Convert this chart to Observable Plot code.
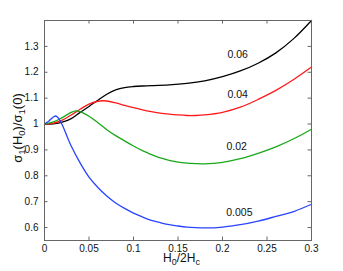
<!DOCTYPE html>
<html>
<head>
<meta charset="utf-8">
<script src="https://cdn.jsdelivr.net/npm/d3@7"></script>
<script src="https://cdn.jsdelivr.net/npm/@observablehq/plot@0.6"></script>
<style>
  html, body { margin: 0; padding: 0; background: #fff; }
  #chart svg { display: block; font-family: "Liberation Sans", Arial, sans-serif; }
</style>
</head>
<body>
<div id="chart"></div>
<script>
// ---- data ----
const xBlack = [0, 0.01, 0.02, 0.03, 0.04, 0.05, 0.06, 0.07, 0.08, 0.09, 0.10, 0.11, 0.12, 0.14, 0.16, 0.18, 0.20, 0.22, 0.24, 0.26, 0.28, 0.30];
const yBlack = [1.0, 1.001, 1.007, 1.021, 1.045, 1.068, 1.092, 1.115, 1.132, 1.141, 1.145, 1.147, 1.148, 1.151, 1.157, 1.167, 1.183, 1.205, 1.235, 1.275, 1.33, 1.40];

const xRed = [0, 0.01, 0.02, 0.03, 0.04, 0.05, 0.06, 0.065, 0.07, 0.08, 0.09, 0.10, 0.11, 0.12, 0.13, 0.14, 0.15, 0.16, 0.17, 0.18, 0.20, 0.22, 0.24, 0.26, 0.28, 0.30];
const yRed = [1.0, 1.003, 1.015, 1.035, 1.057, 1.077, 1.088, 1.09, 1.089, 1.082, 1.072, 1.063, 1.055, 1.048, 1.042, 1.038, 1.035, 1.033, 1.033, 1.035, 1.045, 1.065, 1.095, 1.13, 1.172, 1.22];

const xGreen = [0, 0.01, 0.02, 0.03, 0.035, 0.04, 0.05, 0.06, 0.07, 0.08, 0.09, 0.10, 0.11, 0.12, 0.13, 0.14, 0.15, 0.16, 0.17, 0.18, 0.19, 0.20, 0.22, 0.24, 0.26, 0.28, 0.30];
const yGreen = [1.0, 1.008, 1.025, 1.045, 1.051, 1.048, 1.03, 1.005, 0.978, 0.955, 0.935, 0.915, 0.897, 0.882, 0.869, 0.86, 0.853, 0.849, 0.847, 0.846, 0.848, 0.852, 0.866, 0.887, 0.912, 0.943, 0.98];

const xBlue = [0, 0.005, 0.01, 0.0125, 0.015, 0.02, 0.025, 0.03, 0.04, 0.05, 0.06, 0.07, 0.08, 0.09, 0.10, 0.11, 0.12, 0.13, 0.14, 0.15, 0.16, 0.17, 0.18, 0.19, 0.20, 0.22, 0.24, 0.26, 0.28, 0.30];
const yBlue = [1.0, 1.012, 1.027, 1.031, 1.025, 0.996, 0.955, 0.915, 0.85, 0.795, 0.755, 0.722, 0.695, 0.674, 0.656, 0.641, 0.628, 0.619, 0.611, 0.606, 0.602, 0.6, 0.599, 0.599, 0.602, 0.611, 0.625, 0.643, 0.662, 0.69];

const seriesNames = ["0.06", "0.04", "0.02", "0.005"];
const seriesColors = ["#000000", "#ff1a1a", "#1aa81a", "#2a44ff"];
const labelX = [0.217, 0.217, 0.216, 0.219];
const labelY = [1.27, 1.113, 0.914, 0.659];

const xTicks = [0, 0.05, 0.1, 0.15, 0.2, 0.25, 0.3];
const yTicks = [0.6, 0.7, 0.8, 0.9, 1, 1.1, 1.2, 1.3];

// ---- build tables ----
const xs = [xBlack, xRed, xGreen, xBlue];
const ys = [yBlack, yRed, yGreen, yBlue];
const rows = [];
seriesNames.forEach((name, i) => xs[i].forEach((x, j) => rows.push({series: name, x, y: ys[i][j]})));
const labels = seriesNames.map((name, i) => ({series: name, x: labelX[i], y: labelY[i]}));

const W = 343, H = 271;
const mL = 44, mR = 32, mT = 20, mB = 31;
const pw = W - mL - mR, ph = H - mT - mB;
const tick = 3.5;
const boxColor = "#666";
const fmt = d => String(+d.toFixed(3));

const chart = Plot.plot({
  width: W, height: H,
  marginLeft: mL, marginRight: mR, marginTop: mT, marginBottom: mB,
  style: {fontFamily: "Liberation Sans, Arial, sans-serif", fontSize: "10px", color: "#111", background: "#fff"},
  x: {domain: [0, 0.3], ticks: xTicks, tickFormat: fmt, label: null},
  y: {domain: [0.55, 1.4], ticks: yTicks, tickFormat: fmt, label: null},
  color: {domain: seriesNames, range: seriesColors},
  marks: [
    Plot.axisX(xTicks, {tickSize: 0, tickPadding: 4, tickFormat: fmt, fontSize: 10, fill: "#111"}),
    Plot.axisY(yTicks, {tickSize: 0, tickPadding: 6, tickFormat: fmt, fontSize: 10, fill: "#111"}),
    // inward ticks on all four sides
    Plot.tickX(xTicks, {x: d => d, insetTop: ph - tick, stroke: boxColor, strokeWidth: 1}),
    Plot.tickX(xTicks, {x: d => d, insetBottom: ph - tick, stroke: boxColor, strokeWidth: 1}),
    Plot.tickY(yTicks, {y: d => d, insetRight: pw - tick, stroke: boxColor, strokeWidth: 1}),
    Plot.tickY(yTicks, {y: d => d, insetLeft: pw - tick, stroke: boxColor, strokeWidth: 1}),
    Plot.line(rows, {x: "x", y: "y", z: "series", stroke: "series", strokeWidth: 1.3, curve: "catmull-rom"}),
    Plot.text(labels, {x: "x", y: "y", text: "series", fontSize: 10.5, fill: "#111"}),
    Plot.frame({stroke: boxColor, strokeWidth: 1})
  ]
});

// axis titles with real subscripts
const svg = d3.select(chart);
const xt = svg.append("text")
  .attr("x", mL + pw / 2 + 4).attr("y", 262)
  .attr("text-anchor", "middle")
  .attr("font-size", 12).attr("fill", "#111");
xt.append("tspan").text("H");
xt.append("tspan").attr("baseline-shift", "-35%").attr("font-size", 9).text("0");
xt.append("tspan").text("/2H");
xt.append("tspan").attr("baseline-shift", "-35%").attr("font-size", 9).text("c");

const yt = svg.append("text")
  .attr("transform", `translate(22,${mT + ph / 2 - 2}) rotate(-90)`)
  .attr("text-anchor", "middle")
  .attr("font-size", 13).attr("fill", "#111");
yt.append("tspan").text("σ");
yt.append("tspan").attr("baseline-shift", "-30%").attr("font-size", 9.5).text("1");
yt.append("tspan").text("(H");
yt.append("tspan").attr("baseline-shift", "-30%").attr("font-size", 9.5).text("0");
yt.append("tspan").text(")/σ");
yt.append("tspan").attr("baseline-shift", "-30%").attr("font-size", 9.5).text("1");
yt.append("tspan").text("(0)");

document.getElementById("chart").append(chart);
</script>
</body>
</html>
